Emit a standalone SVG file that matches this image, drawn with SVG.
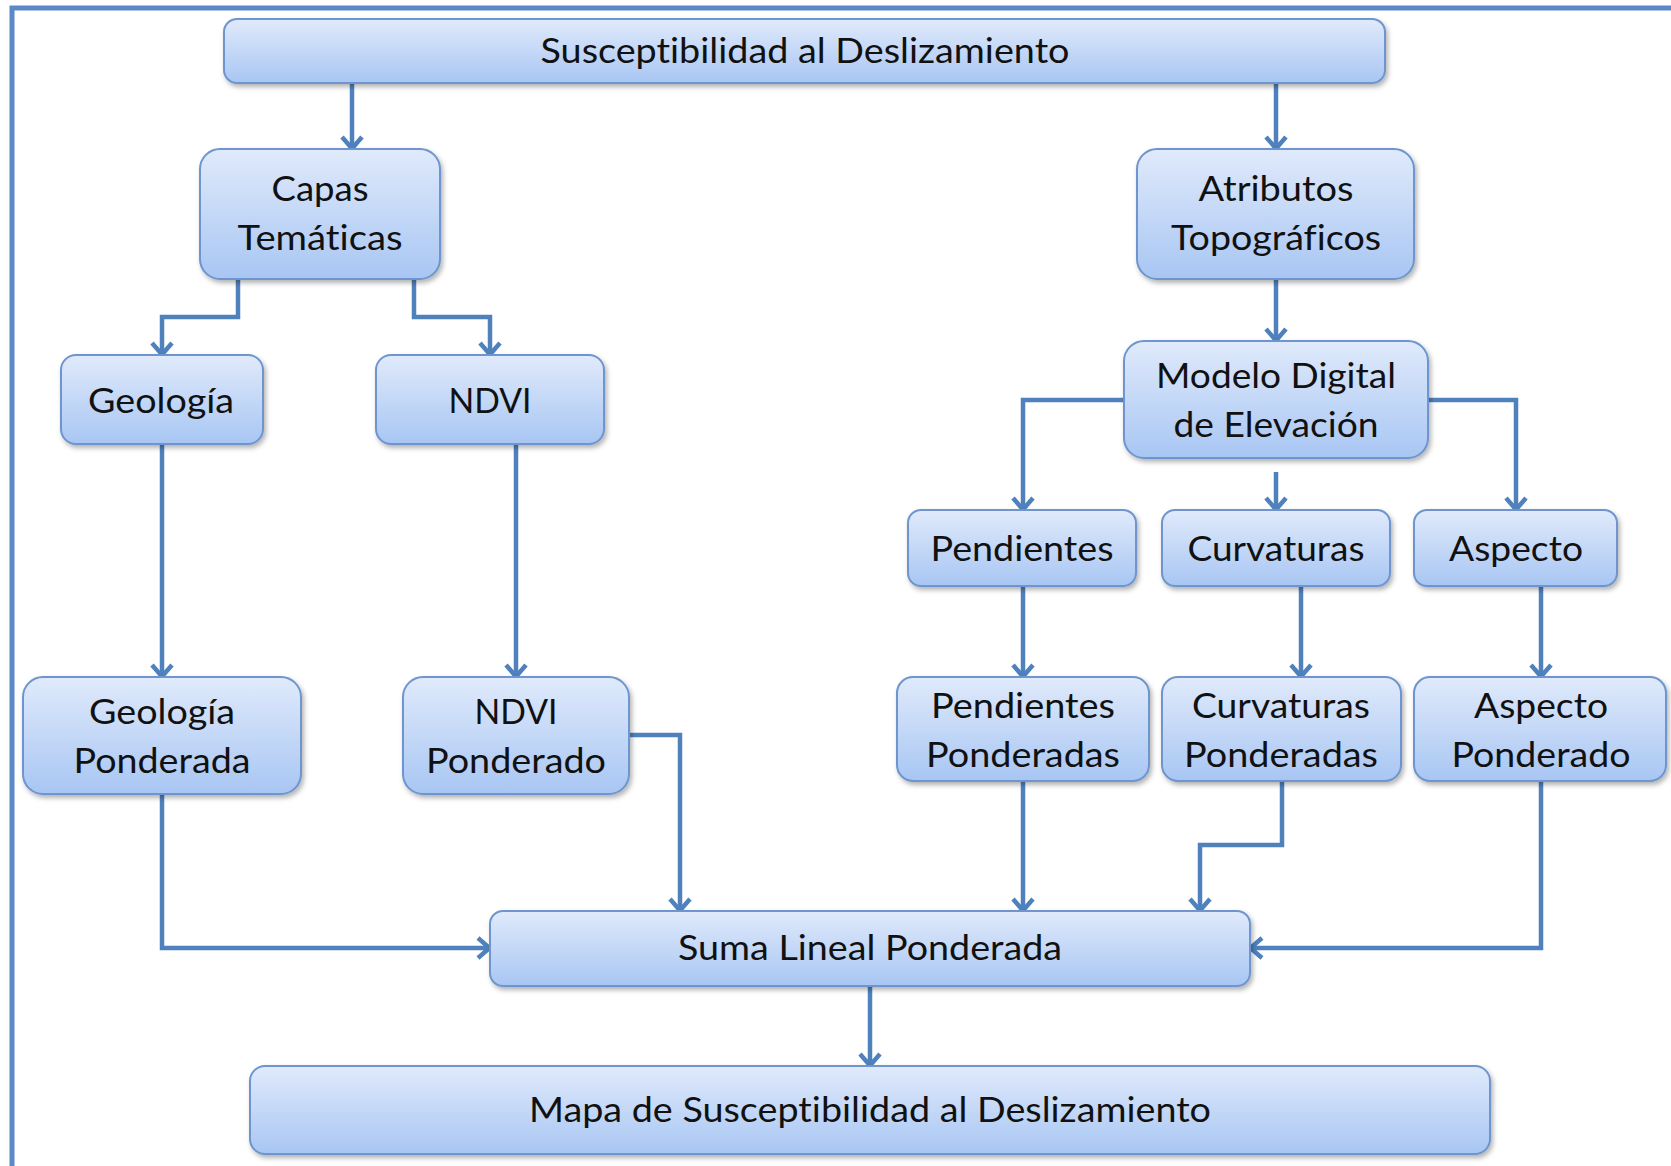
<svg xmlns="http://www.w3.org/2000/svg" width="1671" height="1166" viewBox="0 0 1671 1166">
<defs>
<linearGradient id="g" x1="0" y1="0" x2="0" y2="1">
<stop offset="0" stop-color="#e0eafb"/>
<stop offset="1" stop-color="#a8c6f3"/>
</linearGradient>
<filter id="sh" x="-10%" y="-20%" width="120%" height="150%">
<feDropShadow dx="2" dy="3" stdDeviation="2.5" flood-color="#000" flood-opacity="0.3"/>
</filter>
<marker id="ar" viewBox="0 0 16 24" refX="14" refY="12" markerWidth="16" markerHeight="24" markerUnits="userSpaceOnUse" orient="auto">
<path d="M2,2 L13.5,12 L2,22" fill="none" stroke="#4f81bd" stroke-width="4.5"/>
</marker>
</defs>
<style>
.n{fill:url(#g);stroke:#6e95cd;stroke-width:2;filter:url(#sh)}
.t{font-family:Lato,"Open Sans","Noto Sans",sans-serif;font-size:35px;fill:#111;text-anchor:middle;font-variant-ligatures:none}
.c{fill:none;stroke:#4f81bd;stroke-width:4.5;marker-end:url(#ar)}
</style>
<rect width="1671" height="1166" fill="#fff"/>
<rect x="12" y="8" width="1700" height="1200" fill="none" stroke="#5b88c9" stroke-width="5"/>

<g id="connectors">
<path class="c" d="M352,83 V149"/>
<path class="c" d="M1276,83 V149"/>
<path class="c" d="M238,279 V317 H162 V355"/>
<path class="c" d="M414,279 V317 H490 V355"/>
<path class="c" d="M1276,279 V341"/>
<path class="c" d="M1124,400 H1023 V510"/>
<path class="c" d="M1276,472 V510"/>
<path class="c" d="M1428,400 H1516 V510"/>
<path class="c" d="M162,444 V677"/>
<path class="c" d="M516,444 V677"/>
<path class="c" d="M1023,586 V677"/>
<path class="c" d="M1301,586 V677"/>
<path class="c" d="M1541,586 V677"/>
<path class="c" d="M162,794 V948 H490"/>
<path class="c" d="M629,735 H680 V911"/>
<path class="c" d="M1023,781 V911"/>
<path class="c" d="M1282,781 V845 H1200 V911"/>
<path class="c" d="M1541,781 V948 H1250"/>
<path class="c" d="M870,986 V1066"/>
</g>

<g id="n1"><rect class="n" x="224" y="19" width="1161" height="64" rx="13"/>
<text class="t" x="805" y="63" textLength="529" lengthAdjust="spacingAndGlyphs">Susceptibilidad al Deslizamiento</text></g>

<g id="n2"><rect class="n" x="200" y="149" width="240" height="130" rx="20"/>
<text class="t" x="320" y="201" textLength="97" lengthAdjust="spacingAndGlyphs">Capas</text>
<text class="t" x="320" y="250" textLength="165" lengthAdjust="spacingAndGlyphs">Temáticas</text></g>

<g id="n3"><rect class="n" x="1137" y="149" width="277" height="130" rx="20"/>
<text class="t" x="1276" y="201" textLength="155" lengthAdjust="spacingAndGlyphs">Atributos</text>
<text class="t" x="1276" y="250" textLength="210" lengthAdjust="spacingAndGlyphs">Topográficos</text></g>

<g id="n4"><rect class="n" x="61" y="355" width="202" height="89" rx="15"/>
<text class="t" x="161" y="413" textLength="146" lengthAdjust="spacingAndGlyphs">Geología</text></g>

<g id="n5"><rect class="n" x="376" y="355" width="228" height="89" rx="15"/>
<text class="t" x="490" y="413" textLength="83" lengthAdjust="spacingAndGlyphs">NDVI</text></g>

<g id="n6"><rect class="n" x="1124" y="341" width="304" height="117" rx="20"/>
<text class="t" x="1276" y="388" textLength="240" lengthAdjust="spacingAndGlyphs">Modelo Digital</text>
<text class="t" x="1276" y="437" textLength="205" lengthAdjust="spacingAndGlyphs">de Elevación</text></g>

<g id="n7"><rect class="n" x="908" y="510" width="228" height="76" rx="13"/>
<text class="t" x="1022" y="561" textLength="183" lengthAdjust="spacingAndGlyphs">Pendientes</text></g>

<g id="n8"><rect class="n" x="1162" y="510" width="228" height="76" rx="13"/>
<text class="t" x="1276" y="561" textLength="177" lengthAdjust="spacingAndGlyphs">Curvaturas</text></g>

<g id="n9"><rect class="n" x="1414" y="510" width="203" height="76" rx="13"/>
<text class="t" x="1516" y="561" textLength="134" lengthAdjust="spacingAndGlyphs">Aspecto</text></g>

<g id="n10"><rect class="n" x="23" y="677" width="278" height="117" rx="20"/>
<text class="t" x="162" y="724" textLength="146" lengthAdjust="spacingAndGlyphs">Geología</text>
<text class="t" x="162" y="773" textLength="177" lengthAdjust="spacingAndGlyphs">Ponderada</text></g>

<g id="n11"><rect class="n" x="403" y="677" width="226" height="117" rx="20"/>
<text class="t" x="516" y="724" textLength="83" lengthAdjust="spacingAndGlyphs">NDVI</text>
<text class="t" x="516" y="773" textLength="180" lengthAdjust="spacingAndGlyphs">Ponderado</text></g>

<g id="n12"><rect class="n" x="897" y="677" width="252" height="104" rx="16"/>
<text class="t" x="1023" y="718" textLength="184" lengthAdjust="spacingAndGlyphs">Pendientes</text>
<text class="t" x="1023" y="767" textLength="194" lengthAdjust="spacingAndGlyphs">Ponderadas</text></g>

<g id="n13"><rect class="n" x="1162" y="677" width="239" height="104" rx="16"/>
<text class="t" x="1281" y="718" textLength="178" lengthAdjust="spacingAndGlyphs">Curvaturas</text>
<text class="t" x="1281" y="767" textLength="194" lengthAdjust="spacingAndGlyphs">Ponderadas</text></g>

<g id="n14"><rect class="n" x="1414" y="677" width="252" height="104" rx="16"/>
<text class="t" x="1541" y="718" textLength="134" lengthAdjust="spacingAndGlyphs">Aspecto</text>
<text class="t" x="1541" y="767" textLength="179" lengthAdjust="spacingAndGlyphs">Ponderado</text></g>

<g id="n15"><rect class="n" x="490" y="911" width="760" height="75" rx="13"/>
<text class="t" x="870" y="960" textLength="384" lengthAdjust="spacingAndGlyphs">Suma Lineal Ponderada</text></g>

<g id="n16"><rect class="n" x="250" y="1066" width="1240" height="88" rx="15"/>
<text class="t" x="870" y="1122" textLength="682" lengthAdjust="spacingAndGlyphs">Mapa de Susceptibilidad al Deslizamiento</text></g>
</svg>
